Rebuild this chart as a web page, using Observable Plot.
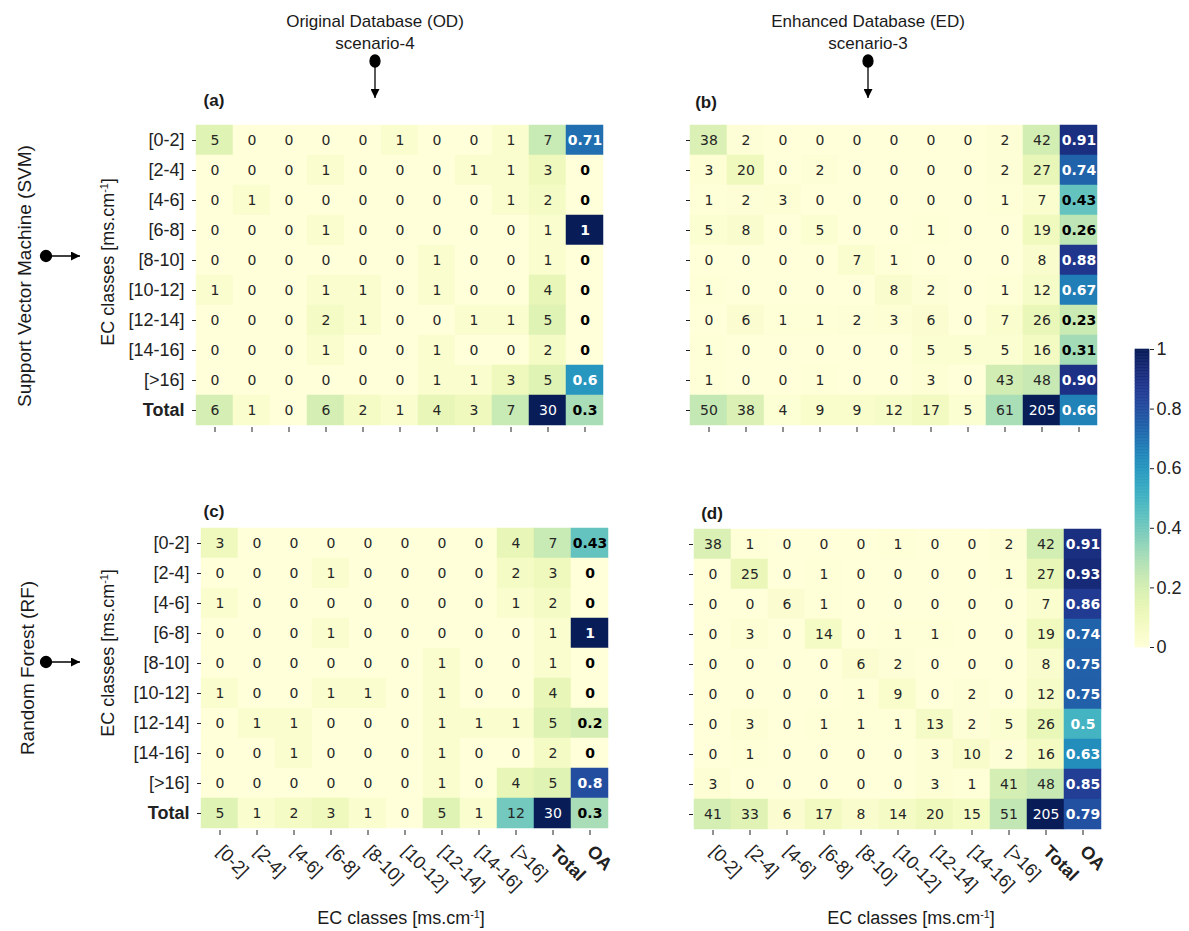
<!DOCTYPE html>
<html><head><meta charset="utf-8">
<script src="https://cdn.jsdelivr.net/npm/d3@7"></script>
<script src="https://cdn.jsdelivr.net/npm/@observablehq/plot@0.6"></script>
<style>
body{margin:0;background:#fff;}
#root{position:relative;width:1189px;height:931px;font-family:"Liberation Sans",Arial,sans-serif;color:#1a1a1a;overflow:hidden;}
.lbl{position:absolute;white-space:nowrap;line-height:1;transform:translate(-50%,-50%);}
.rot{transform:translate(-50%,-50%) rotate(-90deg);}
.pl{position:absolute;}
sup{font-size:0.6em;vertical-align:0.6em;line-height:0;}
</style></head><body><div id="root"></div>
<script>
// ---------- data ----------
const classes = ["[0-2]","[2-4]","[4-6]","[6-8]","[8-10]","[10-12]","[12-14]","[14-16]","[>16]"];
const rowLabels = [...classes, "Total"];
const colLabels = [...classes, "Total", "OA"];
const colorbarTicks = [0, 0.2, 0.4, 0.6, 0.8, 1];

// (a) SVM, Original Database, scenario-4 (last column = row total)
const countsA = [
  [5,0,0,0,0,1,0,0,1,7],
  [0,0,0,1,0,0,0,1,1,3],
  [0,1,0,0,0,0,0,0,1,2],
  [0,0,0,1,0,0,0,0,0,1],
  [0,0,0,0,0,0,1,0,0,1],
  [1,0,0,1,1,0,1,0,0,4],
  [0,0,0,2,1,0,0,1,1,5],
  [0,0,0,1,0,0,1,0,0,2],
  [0,0,0,0,0,0,1,1,3,5],
  [6,1,0,6,2,1,4,3,7,30]
];
const oaA = ["0.71","0","0","1","0","0","0","0","0.6","0.3"];

// (b) SVM, Enhanced Database, scenario-3
const countsB = [
  [38,2,0,0,0,0,0,0,2,42],
  [3,20,0,2,0,0,0,0,2,27],
  [1,2,3,0,0,0,0,0,1,7],
  [5,8,0,5,0,0,1,0,0,19],
  [0,0,0,0,7,1,0,0,0,8],
  [1,0,0,0,0,8,2,0,1,12],
  [0,6,1,1,2,3,6,0,7,26],
  [1,0,0,0,0,0,5,5,5,16],
  [1,0,0,1,0,0,3,0,43,48],
  [50,38,4,9,9,12,17,5,61,205]
];
const oaB = ["0.91","0.74","0.43","0.26","0.88","0.67","0.23","0.31","0.90","0.66"];

// (c) RF, Original Database
const countsC = [
  [3,0,0,0,0,0,0,0,4,7],
  [0,0,0,1,0,0,0,0,2,3],
  [1,0,0,0,0,0,0,0,1,2],
  [0,0,0,1,0,0,0,0,0,1],
  [0,0,0,0,0,0,1,0,0,1],
  [1,0,0,1,1,0,1,0,0,4],
  [0,1,1,0,0,0,1,1,1,5],
  [0,0,1,0,0,0,1,0,0,2],
  [0,0,0,0,0,0,1,0,4,5],
  [5,1,2,3,1,0,5,1,12,30]
];
const oaC = ["0.43","0","0","1","0","0","0.2","0","0.8","0.3"];

// (d) RF, Enhanced Database
const countsD = [
  [38,1,0,0,0,1,0,0,2,42],
  [0,25,0,1,0,0,0,0,1,27],
  [0,0,6,1,0,0,0,0,0,7],
  [0,3,0,14,0,1,1,0,0,19],
  [0,0,0,0,6,2,0,0,0,8],
  [0,0,0,0,1,9,0,2,0,12],
  [0,3,0,1,1,1,13,2,5,26],
  [0,1,0,0,0,0,3,10,2,16],
  [3,0,0,0,0,0,3,1,41,48],
  [41,33,6,17,8,14,20,15,51,205]
];
const oaD = ["0.91","0.93","0.86","0.74","0.75","0.75","0.5","0.63","0.85","0.79"];

// ---------- layout ----------
const root = document.getElementById("root");
const FONT = "Liberation Sans, Arial, sans-serif";
const CELLFONT = "DejaVu Sans, Verdana, sans-serif";
const TICKFS = 18;

function addLabel(html, cx, cy, size, opts = {}) {
  const d = document.createElement("div");
  d.className = "lbl" + (opts.rot ? " rot" : "");
  d.style.left = cx + "px"; d.style.top = cy + "px";
  d.style.fontSize = size + "px";
  if (opts.bold) d.style.fontWeight = "bold";
  d.innerHTML = html;
  root.appendChild(d);
}

function buildData(counts, oa) {
  const max = d3.max(counts.flat());
  const out = [];
  counts.forEach((row, i) => {
    row.forEach((c, j) => out.push({row: rowLabels[i], col: colLabels[j], v: c / max, label: String(c), oa: false}));
    out.push({row: rowLabels[i], col: "OA", v: +oa[i], label: oa[i], oa: true});
  });
  return out;
}

function makePanel(p) {
  const mL = p.yLab ? 130 : 16, mR = 4, mT = 2, mB = p.xLab ? 80 : 14;
  const data = buildData(p.counts, p.oa);
  const width = mL + p.w + mR, height = mT + p.h + mB;
  const cellText = (filter, fill, bold) => Plot.text(data.filter(filter), {
    x: "col", y: "row", text: "label", fill,
    fontFamily: CELLFONT, fontSize: 14, fontWeight: bold ? "bold" : "normal"
  });
  const marks = [
    Plot.cell(data, {x: "col", y: "row", fill: "v", stroke: "v", strokeWidth: 0.5}),
    cellText(d => !d.oa && d.v < 0.5, "#262626", false),
    cellText(d => !d.oa && d.v >= 0.5, "white", false),
    cellText(d => d.oa && d.v < 0.5, "black", true),
    cellText(d => d.oa && d.v >= 0.5, "white", true),
    Plot.axisY(classes, {tickSize: 4, tickPadding: 8, fontSize: TICKFS, label: null,
      tickFormat: p.yLab ? d => d : () => ""}),
    Plot.axisY(["Total"], {tickSize: 4, tickPadding: 8, fontSize: TICKFS, fontWeight: "bold", label: null,
      tickFormat: p.yLab ? d => d : () => ""})
  ];
  if (p.xLab) {
    marks.push(Plot.axisX(classes, {tickSize: 5, tickPadding: 13, tickRotate: 45, textAnchor: "start",
      lineAnchor: "middle", fontSize: TICKFS, label: null}));
    marks.push(Plot.axisX(["Total", "OA"], {tickSize: 5, tickPadding: 13, tickRotate: 45, textAnchor: "start",
      lineAnchor: "middle", fontSize: TICKFS, fontWeight: "bold", label: null}));
  } else {
    marks.push(Plot.axisX(colLabels, {tickSize: 5, tickFormat: () => "", label: null}));
  }
  const chart = Plot.plot({
    width, height, marginLeft: mL, marginRight: mR, marginTop: mT, marginBottom: mB,
    style: {fontFamily: FONT, background: "transparent", overflow: "visible", color: "#222"},
    x: {domain: colLabels, padding: 0},
    y: {domain: rowLabels, padding: 0},
    color: {type: "linear", scheme: "YlGnBu", domain: [0, 1]},
    marks
  });
  chart.classList.add("pl");
  chart.style.left = (p.x0 - mL) + "px";
  chart.style.top = (p.y0 - mT) + "px";
  root.appendChild(chart);
}

const panels = [
  {counts: countsA, oa: oaA, x0: 196, y0: 122, w: 407, h: 305, yLab: true,  xLab: false},
  {counts: countsB, oa: oaB, x0: 690, y0: 122, w: 407, h: 305, yLab: false, xLab: false},
  {counts: countsC, oa: oaC, x0: 201, y0: 526, w: 407, h: 304, yLab: true,  xLab: true},
  {counts: countsD, oa: oaD, x0: 693, y0: 527, w: 409, h: 303, yLab: false, xLab: true}
];
panels.forEach(makePanel);

// colorbar
{
  const steps = d3.range(0, 200);
  const mT = 4, mB = 4, mL = 0, mR = 50;
  const cb = Plot.plot({
    width: mL + 14 + mR, height: mT + 298 + mB,
    marginLeft: mL, marginRight: mR, marginTop: mT, marginBottom: mB,
    style: {fontFamily: FONT, background: "transparent", overflow: "visible", color: "#222"},
    y: {domain: [0, 1]},
    color: {type: "linear", scheme: "YlGnBu", domain: [0, 1]},
    marks: [
      Plot.rectY(steps, {y1: i => i / 200, y2: i => (i + 1) / 200, fill: i => (i + 0.5) / 200,
        stroke: i => (i + 0.5) / 200, strokeWidth: 0.6}),
      Plot.axisY({anchor: "right", ticks: colorbarTicks, tickFormat: d => String(d),
        tickSize: 4, tickPadding: 3, fontSize: 18, label: null})
    ]
  });
  cb.classList.add("pl");
  cb.style.left = (1135 - mL) + "px";
  cb.style.top = (349 - mT) + "px";
  root.appendChild(cb);
}

// texts
addLabel("Original Database (OD)", 375, 21, 17);
addLabel("scenario-4", 375, 43, 17);
addLabel("Enhanced Database (ED)", 868, 21, 17);
addLabel("scenario-3", 868, 43, 17);
addLabel("(a)", 214, 100, 17, {bold: true});
addLabel("(b)", 706, 102, 17, {bold: true});
addLabel("(c)", 214, 511, 17, {bold: true});
addLabel("(d)", 712, 513, 17, {bold: true});
addLabel("Support Vector Machine (SVM)", 24, 276, 19, {rot: true});
addLabel("Random Forest (RF)", 27, 668, 19, {rot: true});
addLabel("EC classes [ms.cm<sup>-1</sup>]", 108, 262, 18, {rot: true});
addLabel("EC classes [ms.cm<sup>-1</sup>]", 108, 653, 18, {rot: true});
addLabel("EC classes [ms.cm<sup>-1</sup>]", 401, 918, 18);
addLabel("EC classes [ms.cm<sup>-1</sup>]", 911, 918, 18);

// arrows (decoration)
const ns = "http://www.w3.org/2000/svg";
const svg = document.createElementNS(ns, "svg");
svg.setAttribute("width", 1189); svg.setAttribute("height", 931);
svg.style.position = "absolute"; svg.style.left = "0"; svg.style.top = "0"; svg.style.pointerEvents = "none";
svg.innerHTML = `
<defs><marker id="ah" viewBox="0 0 10 10" refX="10" refY="5" markerWidth="9" markerHeight="9" markerUnits="userSpaceOnUse" orient="auto">
<path d="M0,0 L10,5 L0,10 z" fill="#000"/></marker></defs>
<g stroke="#000" stroke-width="1.3" fill="#000">
<ellipse cx="375" cy="61" rx="5" ry="6"/><line x1="375" y1="62" x2="375" y2="98" marker-end="url(#ah)"/>
<ellipse cx="868" cy="61" rx="5" ry="6"/><line x1="868" y1="62" x2="868" y2="98" marker-end="url(#ah)"/>
<circle cx="46" cy="256" r="5.5"/><line x1="47" y1="256" x2="80" y2="256" marker-end="url(#ah)"/>
<circle cx="46" cy="662" r="5.5"/><line x1="47" y1="662" x2="80" y2="662" marker-end="url(#ah)"/>
</g>`;
root.appendChild(svg);
</script>
</body></html>
